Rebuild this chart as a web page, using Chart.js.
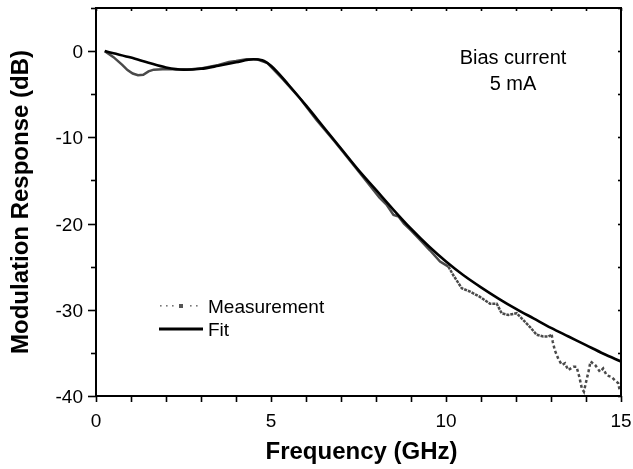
<!DOCTYPE html>
<html>
<head>
<meta charset="utf-8">
<script src="https://cdn.jsdelivr.net/npm/chart.js@4"></script>
<style>
  html, body { margin: 0; padding: 0; background: #fff; }
  #wrap { width: 633px; height: 469px; position: relative; }
</style>
</head>
<body>
<div id="wrap"><canvas id="c" width="633" height="469"></canvas></div>
<script>
// ---- data ----
const fitX = [0.25, 0.5, 1.0, 1.5, 2.0, 2.5, 3.0, 3.5, 4.0, 4.5, 4.75, 5.0, 5.5, 6.0, 6.5, 7.0, 7.5, 8.0, 8.5, 9.0, 9.5, 10.0, 10.5, 11.0, 11.5, 12.0, 12.5, 13.0, 13.5, 14.0, 14.5, 15.0];
const fitY = [0, -0.25, -0.75, -1.35, -1.9, -2.15, -2.05, -1.7, -1.3, -0.95, -1.05, -1.7, -3.9, -6.3, -8.8, -11.3, -13.8, -16.1, -18.4, -20.6, -22.6, -24.4, -26.0, -27.4, -28.7, -29.9, -31.0, -32.1, -33.1, -34.1, -35.1, -36.0];

const measX = [0.25, 0.5, 0.75, 0.9, 1.05, 1.2, 1.35, 1.5, 1.65, 1.9, 2.2, 2.6, 3.0, 3.5, 3.8, 4.0, 4.3, 4.6, 4.9, 5.35, 5.83, 6.3, 6.8, 7.3, 7.75, 8.1, 8.3, 8.5, 8.65, 8.8, 9.0, 9.26, 9.54, 9.83, 10.07, 10.21, 10.45, 10.69, 10.97, 11.26, 11.45, 11.59, 11.78, 12.02, 12.21, 12.40, 12.59, 12.78, 12.92, 13.02, 13.05, 13.11, 13.21, 13.31, 13.4, 13.49, 13.64, 13.73, 13.81, 13.88, 13.94, 14.0, 14.07, 14.13, 14.26, 14.4, 14.49, 14.59, 14.73, 14.83, 14.92, 14.97];
const measY = [0, -0.7, -1.6, -2.2, -2.6, -2.8, -2.75, -2.35, -2.15, -2.1, -2.1, -2.15, -2.0, -1.6, -1.25, -1.15, -0.95, -0.95, -1.4, -3.3, -5.5, -8.0, -10.4, -12.9, -15.2, -17.0, -17.8, -19.0, -19.2, -20.0, -20.8, -21.9, -23.1, -24.4, -25.0, -26.0, -27.5, -27.9, -28.5, -29.3, -29.3, -30.4, -30.6, -30.4, -31.2, -32.0, -32.9, -33.1, -33.1, -32.9, -33.7, -34.7, -35.7, -36.4, -36.2, -37.0, -36.6, -36.6, -37.8, -39.1, -39.5, -38.4, -37.2, -36.0, -36.4, -37.2, -36.8, -37.6, -37.8, -38.2, -38.5, -39.5];

const xMajorTicks = [0, 5, 10, 15];
const xMinorTicks = [1, 2, 3, 4, 6, 7, 8, 9, 11, 12, 13, 14];
const yMajorTicks = [0, -10, -20, -30, -40];
const yMinorTicks = [5, -5, -15, -25, -35];
const xTickLabels = ['0', '5', '10', '15'];
const yTickLabels = ['0', '-10', '-20', '-30', '-40'];

const seriesNames = ['Fit', 'Measurement'];
const xTitle = 'Frequency (GHz)';
const yTitle = 'Modulation Response (dB)';
const noteLines = ['Bias current', '5 mA'];

const FONT = '"Liberation Sans", Arial, sans-serif';

const framePlugin = {
  id: 'frame',
  afterDraw(chart) {
    const ctx = chart.ctx;
    const { left, right, top, bottom } = chart.chartArea;
    const xs = chart.scales.x, ys = chart.scales.y;
    ctx.save();
    ctx.strokeStyle = '#000';
    ctx.fillStyle = '#000';
    // frame
    ctx.lineWidth = 2;
    ctx.beginPath();
    ctx.moveTo(left, top); ctx.lineTo(right, top); ctx.lineTo(right, bottom);
    ctx.lineTo(left, bottom); ctx.closePath(); ctx.stroke();
    // x ticks
    ctx.lineWidth = 1.6;
    [...xMajorTicks, ...xMinorTicks].forEach(v => {
      const px = Math.round(xs.getPixelForValue(v)) + 0.5;
      ctx.beginPath(); ctx.moveTo(px, bottom); ctx.lineTo(px, bottom + 6); ctx.stroke();
      ctx.beginPath(); ctx.moveTo(px, top); ctx.lineTo(px, top + 3); ctx.stroke();
    });
    // y ticks
    yMajorTicks.forEach(v => {
      const py = Math.round(ys.getPixelForValue(v)) + 0.5;
      ctx.beginPath(); ctx.moveTo(left - 8, py); ctx.lineTo(left, py); ctx.stroke();
      ctx.beginPath(); ctx.moveTo(right, py); ctx.lineTo(right - 3, py); ctx.stroke();
    });
    yMinorTicks.forEach(v => {
      const py = Math.round(ys.getPixelForValue(v)) + 0.5;
      ctx.beginPath(); ctx.moveTo(left - 5, py); ctx.lineTo(left, py); ctx.stroke();
      ctx.beginPath(); ctx.moveTo(right, py); ctx.lineTo(right - 3, py); ctx.stroke();
    });
    // tick labels
    ctx.font = '19px ' + FONT;
    ctx.textAlign = 'right'; ctx.textBaseline = 'alphabetic';
    yMajorTicks.forEach((v, i) => {
      ctx.fillText(yTickLabels[i], left - 13, ys.getPixelForValue(v) + 7);
    });
    ctx.textAlign = 'center';
    xMajorTicks.forEach((v, i) => {
      ctx.fillText(xTickLabels[i], xs.getPixelForValue(v), bottom + 31);
    });
    // axis titles
    ctx.font = 'bold 24px ' + FONT;
    ctx.textAlign = 'center'; ctx.textBaseline = 'alphabetic';
    ctx.fillText(xTitle, (left + right) / 2 + 3, 459);
    ctx.save();
    ctx.translate(28, (top + bottom) / 2);
    ctx.rotate(-Math.PI / 2);
    ctx.fillText(yTitle, 0, 0);
    ctx.restore();
    // annotation
    ctx.font = '20px ' + FONT;
    ctx.textAlign = 'center'; ctx.textBaseline = 'alphabetic';
    ctx.fillText(noteLines[0], 513, 64);
    ctx.fillText(noteLines[1], 513, 90);
    // legend
    ctx.font = '19px ' + FONT;
    ctx.textAlign = 'left';
    ctx.fillStyle = '#777';
    [160, 166, 172, 190, 196].forEach(px => ctx.fillRect(px, 305, 1.6, 1.6));
    ctx.fillStyle = '#555';
    ctx.fillRect(179, 304, 4, 4);
    ctx.fillStyle = '#000';
    ctx.fillText(seriesNames[1], 208, 313);
    ctx.lineWidth = 3;
    ctx.beginPath(); ctx.moveTo(159, 329); ctx.lineTo(203, 329); ctx.stroke();
    ctx.fillText(seriesNames[0], 208, 336);
    ctx.restore();
  }
};

new Chart(document.getElementById('c'), {
  type: 'line',
  data: {
    datasets: [
      {
        label: seriesNames[0],
        data: fitX.map((x, i) => ({ x, y: fitY[i] })),
        borderColor: '#000',
        borderWidth: 2.6,
        pointRadius: 0,
        cubicInterpolationMode: 'monotone',
        fill: false
      },
      {
        label: seriesNames[1],
        data: measX.map((x, i) => ({ x, y: measY[i] })),
        borderColor: '#4a4a4a',
        borderWidth: 2.5,
        pointRadius: 0,
        tension: 0,
        fill: false,
        segment: {
          borderDash: c => (c.p0.parsed.x >= 13.0 ? [3, 2.5] : (c.p0.parsed.x >= 10.0 ? [3, 1] : undefined))
        }
      }
    ]
  },
  options: {
    responsive: false,
    animation: false,
    devicePixelRatio: 1,
    layout: { padding: { top: 8, right: 12, left: 0, bottom: 0 } },
    plugins: { legend: { display: false }, tooltip: { enabled: false } },
    scales: {
      x: {
        type: 'linear', min: 0, max: 15,
        grid: { display: false }, border: { display: false },
        ticks: { display: false },
        afterFit: s => { s.height = 73; }
      },
      y: {
        type: 'linear', min: -40, max: 5,
        grid: { display: false }, border: { display: false },
        ticks: { display: false },
        afterFit: s => { s.width = 96; }
      }
    }
  },
  plugins: [framePlugin]
});
</script>
</body>
</html>
